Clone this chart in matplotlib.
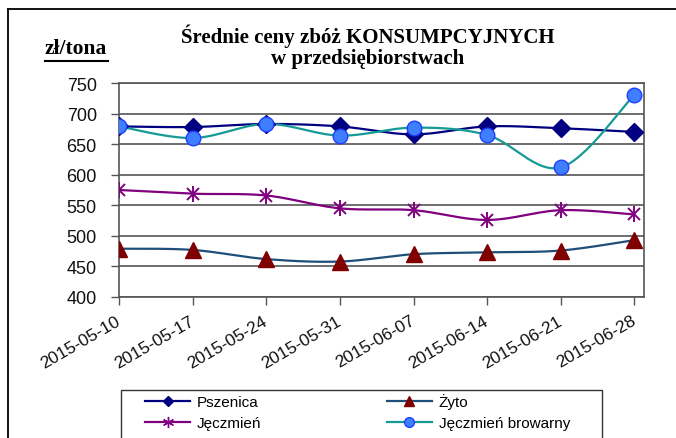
import numpy as np
import matplotlib.pyplot as plt
from matplotlib.lines import Line2D
from matplotlib.patches import Rectangle

dates = ['2015-05-10', '2015-05-17', '2015-05-24', '2015-05-31',
         '2015-06-07', '2015-06-14', '2015-06-21', '2015-06-28']
pszenica = [679, 678, 683, 679, 666, 679, 676, 670]
zyto = [479, 477, 462, 458, 470, 473, 476, 493]
jeczmien = [575, 569, 566, 545, 542, 526, 542, 535]
browarny = [679, 660, 683, 664, 677, 665, 612, 731]


def smooth(y, n=30):
    # wygladzanie linii jak w Excelu (krzywe Beziera / Catmull-Rom)
    y = np.asarray(y, dtype=float)
    x = np.arange(len(y), dtype=float)
    px = np.concatenate([[x[0]], x, [x[-1]]])
    py = np.concatenate([[y[0]], y, [y[-1]]])
    xs, ys = [], []
    t = np.linspace(0, 1, n)
    for i in range(1, len(px) - 2):
        for p, out in ((px, xs), (py, ys)):
            p0, p1, p2, p3 = p[i - 1], p[i], p[i + 1], p[i + 2]
            c1 = p1 + (p2 - p0) / 6
            c2 = p2 - (p3 - p1) / 6
            out.extend((1 - t) ** 3 * p1 + 3 * (1 - t) ** 2 * t * c1
                       + 3 * (1 - t) * t ** 2 * c2 + t ** 3 * p2)
    return np.array(xs), np.array(ys)


fig = plt.figure(figsize=(6.76, 4.39), dpi=100)
ax = fig.add_axes([119 / 676, 1 - 298 / 439, (644 - 119) / 676, (298 - 84) / 439])

x = np.arange(len(dates))
h = {}

# Pszenica
sx, sy = smooth(pszenica)
ax.plot(sx, sy, color='#000080', lw=1.6, zorder=2)
ax.plot(x, pszenica, ls='none', marker='D', ms=9, mfc='#000080', mec='#000080', zorder=3)
h['Pszenica'] = Line2D([], [], color='#000080', lw=1.6, marker='D', ms=5,
                       mfc='#000080', mec='#000080')

# Żyto
sx, sy = smooth(zyto)
ax.plot(sx, sy, color='#1F4E79', lw=1.6, zorder=2)
ax.plot(x, zyto, ls='none', marker='^', ms=11, mfc='#800000', mec='#800000', zorder=3)
h['Żyto'] = Line2D([], [], color='#1F4E79', lw=1.6, marker='^', ms=7,
                   mfc='#800000', mec='#800000')

# Jęczmień - gwiazdka jak w Excelu (x + pionowa kreska)
sx, sy = smooth(jeczmien)
ax.plot(sx, sy, color='#800080', lw=1.6, zorder=2)
ax.plot(x, jeczmien, ls='none', marker='x', ms=9, mec='#800080', mew=1.4, zorder=3)
ax.plot(x, jeczmien, ls='none', marker='|', ms=12, mec='#800080', mew=1.4, zorder=3)
h['Jęczmień'] = Line2D([], [], color='#800080', lw=1.6, marker=(6, 2, 0), ms=8,
                       mec='#800080', mew=1.0)

# Jęczmień browarny
sx, sy = smooth(browarny)
ax.plot(sx, sy, color='#159A96', lw=1.6, zorder=2)
ax.plot(x, browarny, ls='none', marker='o', ms=10.5, mfc='#3F7FFF', mec='#1F3FFF',
        mew=1.0, zorder=3)
h['Jęczmień browarny'] = Line2D([], [], color='#159A96', lw=1.6, marker='o', ms=7,
                                mfc='#3F7FFF', mec='#1F3FFF')

ax.set_xlim(0, 7.13)
ax.set_ylim(400, 750)
ax.set_yticks(range(400, 751, 50))
ax.set_xticks(x)
ax.set_xticklabels(dates, rotation=30, ha='right', va='center', rotation_mode='anchor')
ax.tick_params(axis='both', direction='out', length=6, width=1, color='#555555',
               labelcolor='#111111')
ax.tick_params(axis='y', labelsize=13, pad=10)
ax.tick_params(axis='x', labelsize=12.5, pad=10)
for lbl in ax.get_xticklabels() + ax.get_yticklabels():
    lbl.set_fontfamily('Liberation Sans')
ax.grid(axis='y', color='#555555', lw=1.2)
ax.set_axisbelow(True)
for s in ax.spines.values():
    s.set_color('#555555')
    s.set_linewidth(1.2)

fig.text(368 / 676, 1 - 36 / 439, 'Średnie ceny zbóż KONSUMPCYJNYCH',
         family='Liberation Serif', weight='bold', fontsize=15, ha='center', va='center')
fig.text(368 / 676, 1 - 59 / 439, 'w przedsiębiorstwach',
         family='Liberation Serif', weight='bold', fontsize=15, ha='center', va='center')
fig.text(45 / 676, 1 - 49 / 439, 'zł/tona', family='Liberation Serif', weight='bold',
         fontsize=15.5, ha='left', va='center')
fig.add_artist(Line2D([45 / 676, 108 / 676], [1 - 62 / 439, 1 - 62 / 439],
                      color='black', lw=1.5))

# ramka wykresu
fig.add_artist(Line2D([8 / 676, 1], [1 - 10 / 439, 1 - 10 / 439], color='black', lw=1.3))
fig.add_artist(Line2D([8 / 676, 8 / 676], [0, 1 - 10 / 439], color='black', lw=1.3))

# legenda: ramka osobno, wpisy bez ramki
fig.add_artist(Rectangle((121 / 676, -0.05), (602 - 121) / 676, 1 - 391 / 439 + 0.05,
                         transform=fig.transFigure, fill=False, ec='#333333', lw=1.0))
order = ['Pszenica', 'Jęczmień', 'Żyto', 'Jęczmień browarny']
fig.legend(handles=[h[k] for k in order], labels=order, ncol=2, loc='upper left',
           bbox_to_anchor=(145 / 676, 1 - 394 / 439), frameon=False,
           prop={'family': 'Liberation Sans', 'size': 11},
           handlelength=2.95, handletextpad=0.45, labelspacing=0.45,
           columnspacing=8.2, borderpad=0, borderaxespad=0)

fig.savefig('out.png', dpi=100)
